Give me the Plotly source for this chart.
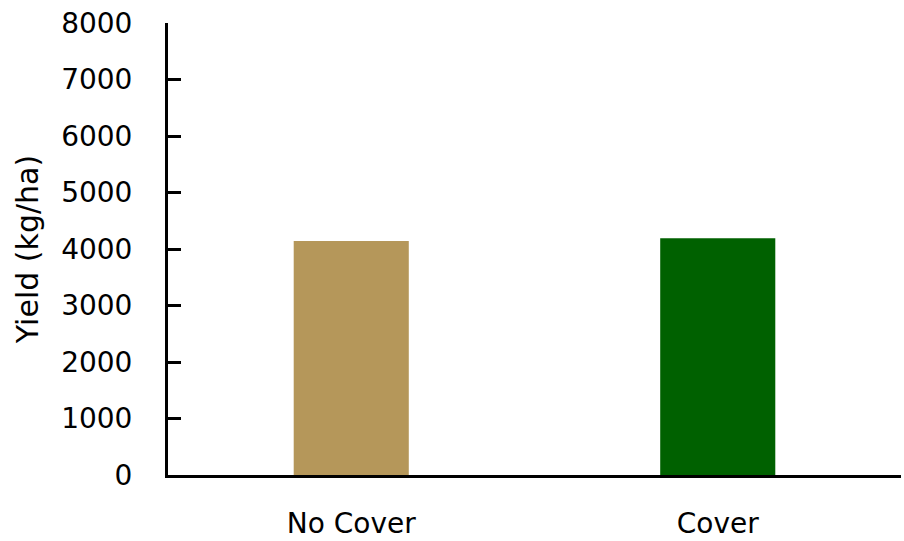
import plotly.graph_objects as go

# Yield by treatment
treatments = ["No Cover", "Cover"]
yield_kg_ha = [4140, 4190]
bar_colors = ["#B5975A", "#006100"]

y_ticks = [0, 1000, 2000, 3000, 4000, 5000, 6000, 7000, 8000]

font_family = "DejaVu Sans"

fig = go.Figure(
    go.Bar(
        x=treatments,
        y=yield_kg_ha,
        marker=dict(color=bar_colors, line=dict(width=0)),
        width=0.314,
    )
)

fig.update_layout(
    width=904,
    height=541,
    margin=dict(l=168, r=3, t=23, b=66),
    paper_bgcolor="white",
    plot_bgcolor="white",
    showlegend=False,
    font=dict(family=font_family, color="black", size=28),
)

fig.update_xaxes(
    automargin=False,
    showline=True,
    linecolor="black",
    linewidth=3,
    showgrid=False,
    ticks="",
    ticklabelstandoff=21,
    tickfont=dict(size=28, family=font_family, color="black"),
)

fig.update_yaxes(
    automargin=False,
    range=[0, 8000],
    tickvals=y_ticks,
    ticktext=[str(v) for v in y_ticks],
    showline=True,
    linecolor="black",
    linewidth=3,
    showgrid=False,
    zeroline=False,
    ticks="inside",
    ticklen=13,
    tickwidth=3,
    tickcolor="black",
    ticklabelstandoff=27,
    tickfont=dict(size=28, family=font_family, color="black"),
    title=dict(text="Yield (kg/ha)", standoff=14,
               font=dict(size=30, family=font_family, color="black")),
)

fig.write_html("out.html")
